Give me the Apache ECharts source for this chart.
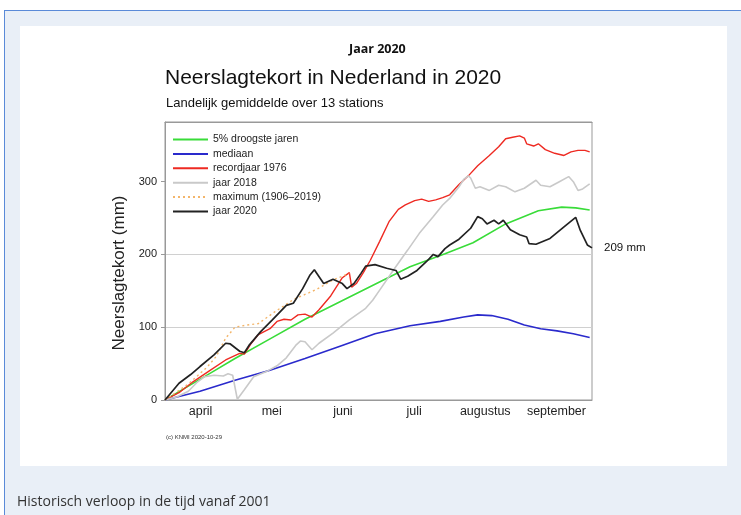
<!DOCTYPE html>
<html>
<head>
<meta charset="utf-8">
<script src="https://cdn.jsdelivr.net/npm/echarts@6/dist/echarts.min.js"></script>
<style>
  body { margin: 0; width: 741px; height: 515px; overflow: hidden; background: #ffffff; }
  .outer { position: absolute; left: 4px; top: 10px; width: 740px; height: 510px;
           border-top: 1px solid #5a8ad8; border-left: 1px solid #5a8ad8; background: #e9eff7; }
  .panel { position: absolute; left: 20px; top: 26px; width: 707px; height: 440px; background: #ffffff; }
  #chart { position: absolute; left: 0; top: 0; width: 741px; height: 515px; }
</style>
</head>
<body>
<div class="outer"></div>
<div class="panel"></div>
<div id="chart"></div>
<script>
  // maanden (categorie-as), dagen geteld vanaf 1 april
  var months = ['april', 'mei', 'juni', 'juli', 'augustus', 'september'];
  var yTicks = [0, 100, 200, 300];

  // 5% droogste jaren
  var greenDays = [0, 10, 20, 30, 45, 60, 75, 90, 105, 120, 132, 146, 160, 170, 176, 182];
  var greenVals = [0, 19, 38, 57, 84, 111, 135, 159, 183, 201, 216, 242, 260, 265, 264, 261];

  // mediaan
  var blueDays = [0, 15, 30, 45, 60, 75, 90, 105, 118, 128, 134, 140, 147, 154, 161, 168, 175, 182];
  var blueVals = [0, 12, 27, 41, 57, 74, 91, 102, 108, 114, 117, 116, 111, 103, 98, 95, 91, 86];

  // recordjaar 1976
  var redDays = [0, 6, 12, 19, 26, 32, 34, 37, 40, 45, 48, 51, 54, 57, 60, 63, 66, 71, 76, 79, 80, 82, 85, 88, 92, 96,
                 100, 103, 107, 110, 113, 116, 119, 122, 126, 130, 134, 139, 143, 146, 149, 152, 154, 155, 158, 160,
                 163, 167, 171, 174, 177, 180, 182];
  var redVals = [0, 10, 25, 40, 55, 64, 63, 78, 90, 98, 108, 111, 110, 117, 118, 114, 124, 143, 168, 175, 155, 160, 175, 192, 218, 245,
                 262, 268, 274, 276, 273, 275, 278, 282, 296, 308, 322, 336, 348, 359, 361, 363, 360, 352, 349, 352,
                 344, 339, 336, 341, 343, 343, 341];

  // jaar 2018
  var grayDays = [0, 5, 10, 14, 17, 21, 25, 27, 29, 31, 34, 38, 44, 48, 52, 56, 58, 60, 63, 66, 72, 79, 86, 89, 92, 98,
                  104, 109, 115, 119, 122, 126, 128, 130, 131, 133, 135, 139, 143, 146, 150, 154, 159, 161, 165, 169,
                  173, 175, 177, 179, 182];
  var grayVals = [0, 4, 12, 25, 32, 34, 33, 36, 34, 1, 14, 32, 40, 47, 58, 75, 81, 80, 69, 78, 92, 110, 126, 137, 151, 179,
                  206, 229, 252, 268, 277, 293, 303, 308, 305, 291, 293, 288, 295, 293, 286, 291, 302, 295, 293, 300,
                  307, 300, 288, 290, 297];

  // maximum (1906-2019)
  var maxDays = [0, 10, 18, 22, 26, 30, 35, 40, 47, 55, 60, 65, 72, 79];
  var maxVals = [0, 22, 45, 60, 85, 100, 103, 105, 121, 138, 145, 152, 165, 174];

  // jaar 2020
  var blackDays = [0, 6, 11, 15, 21, 26, 28, 32, 34, 36, 41, 46, 52, 55, 59, 62, 64, 68, 72, 76, 78, 81, 84, 86, 90, 95,
                   99, 101, 104, 108, 112, 115, 117, 120, 122, 126, 131, 134, 136, 138, 141, 143, 145, 148, 152, 155,
                   156, 159, 165, 171, 176, 178, 181, 183];
  var blackVals = [0, 23, 35, 46, 62, 78, 77, 67, 65, 75, 94, 110, 130, 133, 153, 171, 179, 160, 166, 160, 153, 160, 174, 184, 186, 181,
                   178, 166, 170, 178, 190, 200, 197, 208, 213, 221, 236, 252, 249, 242, 247, 242, 247, 234, 227, 224,
                   215, 214, 222, 238, 251, 233, 213, 209];

  function pairs(days, vals) {
    return days.map(function (d, i) { return [d, vals[i]]; });
  }

  var font = 'Liberation Sans, Arial, sans-serif';

  function line(name, days, vals, color, width, type) {
    return {
      name: name,
      type: 'line',
      xAxisIndex: 1,
      data: pairs(days, vals),
      symbol: 'none',
      showSymbol: false,
      lineStyle: { color: color, width: width, type: type || 'solid' },
      itemStyle: { color: color },
      emphasis: { disabled: true }
    };
  }

  var myChart = echarts.init(document.getElementById('chart'));
  myChart.setOption({
    backgroundColor: 'transparent',
    animation: false,
    title: [
      { text: 'Jaar 2020', left: 349, top: 43, padding: 0,
        textStyle: { fontFamily: 'Open Sans, sans-serif', fontSize: 12.5, fontWeight: 'bold', color: '#111' } },
      { text: 'Neerslagtekort in Nederland in 2020', left: 165, top: 68, padding: 0,
        textStyle: { fontFamily: font, fontSize: 21, fontWeight: 'normal', color: '#111' } },
      { text: 'Landelijk gemiddelde over 13 stations', left: 166, top: 97, padding: 0,
        textStyle: { fontFamily: font, fontSize: 13, fontWeight: 'normal', color: '#111' } },
      { text: '(c) KNMI 2020-10-29', left: 166, top: 434, padding: 0,
        textStyle: { fontFamily: font, fontSize: 6, fontWeight: 'normal', color: '#333' } },
      { text: '209 mm', left: 604, top: 242, padding: 0,
        textStyle: { fontFamily: font, fontSize: 11.5, fontWeight: 'normal', color: '#111' } },
      { text: 'Historisch verloop in de tijd vanaf 2001', left: 17, top: 495, padding: 0,
        textStyle: { fontFamily: 'Open Sans, sans-serif', fontSize: 14, fontWeight: 'normal', color: '#333' } }
    ],
    legend: {
      orient: 'vertical',
      left: 172,
      top: 134,
      padding: 0,
      itemWidth: 35,
      itemHeight: 10,
      itemGap: 3.4,
      itemStyle: { opacity: 0 },
      textStyle: { fontFamily: font, fontSize: 10.5, lineHeight: 10, color: '#222' },
      data: ['5% droogste jaren', 'mediaan', 'recordjaar 1976', 'jaar 2018', 'maximum (1906\u20132019)', 'jaar 2020']
    },
    grid: {
      left: 165, top: 122, width: 427, height: 278,
      show: true, borderColor: '#999', borderWidth: 1, backgroundColor: 'transparent'
    },
    xAxis: [
      {
        type: 'category', data: months, position: 'bottom', boundaryGap: true,
        axisLine: { lineStyle: { color: '#999' } },
        axisTick: { inside: true, length: 4, lineStyle: { color: '#999' } },
        axisLabel: { interval: 0, fontFamily: font, fontSize: 12.5, color: '#222', margin: 5 }
      },
      { type: 'value', min: 0, max: 183, show: false },
      {
        type: 'category', data: months, position: 'top', boundaryGap: true,
        axisLine: { lineStyle: { color: '#999' } },
        axisTick: { inside: true, length: 4, lineStyle: { color: '#999' } },
        axisLabel: { show: false }
      }
    ],
    yAxis: {
      type: 'value', min: 0, max: 382, interval: 100,
      name: 'Neerslagtekort (mm)', nameLocation: 'middle', nameGap: 36,
      nameTextStyle: { fontFamily: font, fontSize: 17, color: '#222', padding: [0, 24, 0, 0] },
      axisLine: { show: true, lineStyle: { color: '#999' } },
      axisTick: { show: true, length: 4, lineStyle: { color: '#999' } },
      axisLabel: {
        fontFamily: font, fontSize: 11, color: '#222', margin: 8, showMaxLabel: false,
        formatter: function (v) { return yTicks.indexOf(v) >= 0 ? String(v) : ''; }
      },
      splitLine: { show: true, lineStyle: { color: ['#d0d0d0', '#d0d0d0', '#d0d0d0', 'rgba(0,0,0,0)', '#999'], width: 1 } }
    },
    series: [
      line('5% droogste jaren', greenDays, greenVals, '#39dc39', 1.6),
      line('mediaan', blueDays, blueVals, '#2a2acc', 1.6),
      line('recordjaar 1976', redDays, redVals, '#ee2a22', 1.4),
      line('jaar 2018', grayDays, grayVals, '#c9c9c9', 1.6),
      line('maximum (1906\u20132019)', maxDays, maxVals, '#f3b56a', 1.4, [2, 3]),
      line('jaar 2020', blackDays, blackVals, '#222222', 1.7)
    ]
  });
</script>
</body>
</html>
